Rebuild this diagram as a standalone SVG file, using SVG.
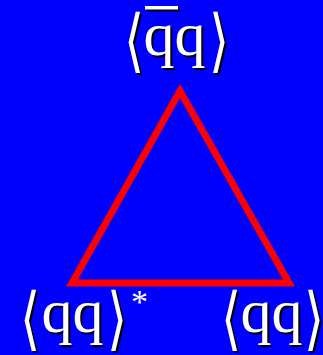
<svg xmlns="http://www.w3.org/2000/svg" width="323" height="355" viewBox="0 0 323 355">
<style>
.q{font-family:'Liberation Serif','Times New Roman',serif;font-size:62px}
.br{font-family:'Liberation Serif',serif;font-size:69px}
.w{fill:#fff}
.k{fill:#000}
</style>
<rect width="323" height="355" fill="#0000ff"/>
<g id="connectors">
<polygon points="180,91 72,283 289,283" fill="none" stroke="#ff0000" stroke-width="7" stroke-linejoin="miter"/>
</g>
<g id="top">
<g class="k" transform="translate(2,2)">
<text class="br" transform="translate(123.5,64) scale(0.75,1)">⟨</text>
<text class="q" x="143.5" y="55">qq</text>
<text class="br" transform="translate(208.5,64) scale(0.75,1)">⟩</text>
<rect x="145" y="6" width="33" height="3.5"/>
</g>
<g class="w">
<text class="br" transform="translate(123.5,64) scale(0.75,1)">⟨</text>
<text class="q" x="143.5" y="55">qq</text>
<text class="br" transform="translate(208.5,64) scale(0.75,1)">⟩</text>
<rect x="145" y="6" width="33" height="3.5"/>
</g>
</g>
<g id="bottomleft">
<g class="k" transform="translate(2,2)">
<text class="br" transform="translate(20,342) scale(0.75,1)">⟨</text>
<text class="q" x="41.5" y="332">qq</text>
<text class="br" transform="translate(107,342) scale(0.75,1)">⟩</text>
</g>
<g class="w">
<text class="br" transform="translate(20,342) scale(0.75,1)">⟨</text>
<text class="q" x="41.5" y="332">qq</text>
<text class="br" transform="translate(107,342) scale(0.75,1)">⟩</text>
</g>
<text x="131" y="313" style="font-family:'Liberation Serif',serif;font-size:34px;fill:#fff">*</text>
</g>
<g id="bottomright">
<g class="k" transform="translate(2,2)">
<text class="br" transform="translate(221,342) scale(0.75,1)">⟨</text>
<text class="q" x="240.5" y="332">qq</text>
<text class="br" transform="translate(304,342) scale(0.75,1)">⟩</text>
</g>
<g class="w">
<text class="br" transform="translate(221,342) scale(0.75,1)">⟨</text>
<text class="q" x="240.5" y="332">qq</text>
<text class="br" transform="translate(304,342) scale(0.75,1)">⟩</text>
</g>
</g>
</svg>
